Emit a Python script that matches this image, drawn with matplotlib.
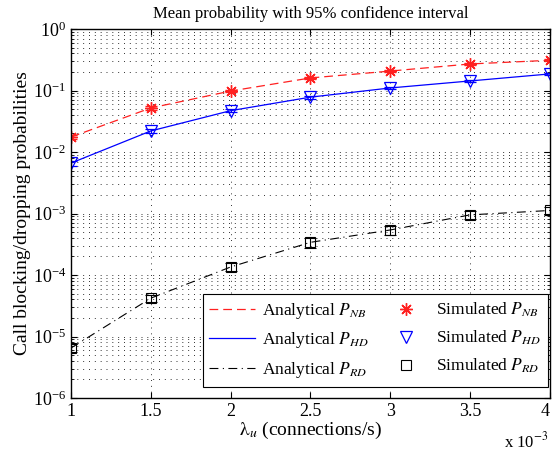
import matplotlib
matplotlib.use("Agg")
import matplotlib.pyplot as plt
from matplotlib.ticker import LogLocator, FixedLocator, NullFormatter

plt.rcParams['font.family'] = ['Liberation Serif', 'DejaVu Serif']
plt.rcParams['mathtext.fontset'] = 'stix'

lam = [1.0, 1.5, 2.0, 2.5, 3.0, 3.5, 4.0]  # x 10^-3
p_nb = [0.0175, 0.052, 0.098, 0.16, 0.207, 0.27, 0.31]
p_hd = [0.0066, 0.022, 0.047, 0.078, 0.11, 0.143, 0.186]
p_rd = [6.5e-6, 4.2e-5, 1.35e-4, 3.4e-4, 5.4e-4, 9.5e-4, 1.12e-3]
err_nb = [0.0012, 0.003, 0.005, 0.007, 0.008, 0.01, 0.01]
err_hd = [0.0006, 0.0015, 0.003, 0.004, 0.005, 0.006, 0.007]
err_rd = [1.0e-6, 6e-6, 2e-5, 6e-5, 9e-5, 1.5e-4, 1.6e-4]
xticks = [1, 1.5, 2, 2.5, 3, 3.5, 4]
xticklabels = ['1', '1.5', '2', '2.5', '3', '3.5', '4']

fig = plt.figure(figsize=(5.52, 4.51), dpi=100)
ax = fig.add_axes([0.1286, 0.1175, 0.8676, 0.8182])

l1, = ax.plot(lam, p_nb, color='#ff2020', ls=(0, (7, 4)), lw=0.9)
l2, = ax.plot(lam, p_hd, color='#0000ff', ls='-', lw=0.9)
l3, = ax.plot(lam, p_rd, color='black', ls=(0, (8, 4, 1, 4)), lw=0.8)

e1 = ax.errorbar(lam, p_nb, yerr=err_nb, ls='none', marker=(8, 2, 0), color='#ff2020', ms=9, mew=1.0,
                 capsize=4, elinewidth=0.8, ecolor='#ff2020')
e2 = ax.errorbar(lam, p_hd, yerr=err_hd, ls='none', marker='v', color='#0000ff', mfc='none', ms=9, mew=0.9,
                 capsize=4, elinewidth=0.8, ecolor='#0000ff')
e3 = ax.errorbar(lam, p_rd, yerr=err_rd, ls='none', marker='s', color='black', mfc='none', ms=7, mew=0.8,
                 capsize=4, elinewidth=0.8, ecolor='black')

ax.set_yscale('log')
ax.set_xlim(1, 4)
ax.set_ylim(1e-6, 1)
ax.xaxis.set_major_locator(FixedLocator(xticks))
ax.set_xticklabels(xticklabels)
ax.get_xticklabels()[-1].set_horizontalalignment('right')
ax.yaxis.set_major_locator(LogLocator(base=10, numticks=10))
ax.yaxis.set_minor_locator(LogLocator(base=10, subs=range(2, 10), numticks=20))
ax.yaxis.set_minor_formatter(NullFormatter())

ax.grid(True, which='major', axis='both', ls=(0, (1, 5)), color='#333333', lw=0.7)
ax.grid(True, which='minor', axis='y', ls=(0, (1, 5)), color='#333333', lw=0.7)
ax.tick_params(which='both', direction='in', top=True, right=True, labelsize=13)
ax.tick_params(which='major', length=4)
ax.tick_params(which='minor', length=2)
for s in ax.spines.values():
    s.set_linewidth(1.0)

ax.set_title('Mean probability with 95% confidence interval', fontsize=12, pad=8)
ax.set_xlabel(r'$\mathrm{\lambda}_{u}$ (connections/s)', fontsize=14, labelpad=0)
ax.set_ylabel('Call blocking/dropping probabilities', fontsize=14, labelpad=1)
ax.text(0.997, -0.09, r'x 10$^{-3}$', transform=ax.transAxes, ha='right', va='top', fontsize=12)

handles = [l1, l2, l3, e1[0], e2[0], e3[0]]
labels = [r'Analytical $P_{NB}$', r'Analytical $P_{HD}$', r'Analytical $P_{RD}$',
          r'Simulated $P_{NB}$', r'Simulated $P_{HD}$', r'Simulated $P_{RD}$']
leg = ax.legend(handles, labels, ncol=2, loc='lower right', fontsize=12.5,
                fancybox=False, edgecolor='black', framealpha=1,
                bbox_to_anchor=(0.995, 0.03), borderaxespad=0,
                handlelength=2.6, handletextpad=0.4, columnspacing=0.9,
                labelspacing=0.55, borderpad=0.4)
leg.get_frame().set_linewidth(0.8)

fig.savefig('out.png', dpi=100)
